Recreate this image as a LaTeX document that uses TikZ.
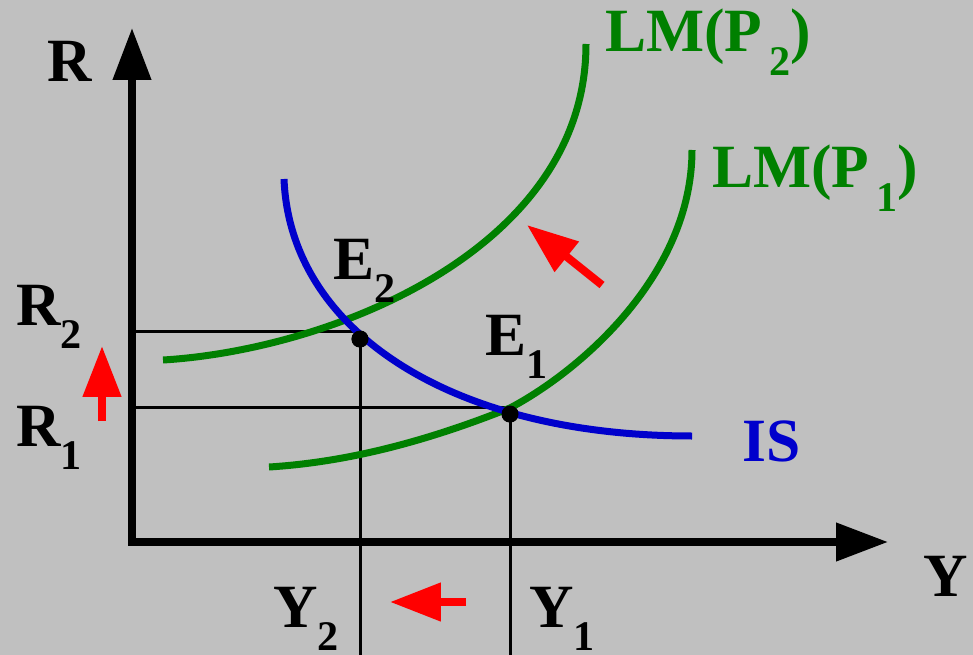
\documentclass[tikz,border=0pt]{standalone}
\usepackage{fontspec}
\setmainfont{Liberation Serif}
\usepackage{xcolor}
\usepackage{tikz}
\usetikzlibrary{
  arrows.meta,
  calc
}
\definecolor{bggrey}{HTML}{C0C0C0}
\definecolor{lmgreen}{HTML}{008000}
\definecolor{isblue}{HTML}{0000CC}
\definecolor{shiftred}{HTML}{FF0000}
\newcommand{\lowsub}[1]{\raisebox{-13.6pt}{\fontsize{24}{24}\selectfont #1}}
\tikzset{
  axisline/.style={
    line width=0.15cm,
    {Triangle[length=1.04cm,width=0.74cm]}-{Triangle[length=1.04cm,width=0.74cm]}
  },
  guideline/.style={
    line width=0.06cm, black
  },
  eqcurve/.style={
    line width=0.14cm, draw=#1
  },
  shiftarrow/.style={
    -{Triangle[length=1.02cm,width=0.74cm]}, line width=0.16cm, shiftred
  },
  eqdot/.style={
    circle, fill=black, inner sep=0pt, minimum size=0.34cm
  },
  lbl/.style={
    anchor=base west, inner sep=0pt,
    font=\fontsize{35}{40}\selectfont\bfseries, text=#1
  },
  lbl/.default=black,
}

\begin{document}
\begin{tikzpicture}[x=0.02cm, y=-0.02cm]
  \fill[bggrey] (0,0) rectangle (973,655);
  \useasboundingbox (0,0) rectangle (973,655);

  \coordinate (O) at (132,542);
  \coordinate (ytip) at (132,28);
  \coordinate (xtip) at (888,542);
  \coordinate (R2c) at (132,331);
  \coordinate (R1c) at (132,407);
  \coordinate (bottom) at (132,655);

  \node[eqdot] (E2pt) at (360,339) {};
  \node[eqdot] (E1pt) at (510,414) {};

  \draw[guideline] (R2c) -- (E2pt |- R2c);
  \draw[guideline] (R1c) -- (E1pt |- R1c);
  \draw[guideline] (E2pt.center) -- (E2pt |- bottom);
  \draw[guideline] (E1pt.center) -- (E1pt |- bottom);

  \coordinate (ISa) at (284,179);
  \coordinate (ISb) at (692,436);
  \coordinate (LM2a) at (163,360);
  \coordinate (LM2b) at (586,44);
  \coordinate (LM1a) at (269,467);
  \coordinate (LM1m) at (510,408);
  \coordinate (LM1b) at (692,150);

  \draw[eqcurve=lmgreen] (LM2a) .. controls (330,350) and (586,250) .. (LM2b);
  \draw[eqcurve=lmgreen] (LM1a) .. controls (350,462) and (430,440) .. (LM1m)
    .. controls (580,371) and (692,275) .. (LM1b);
  \draw[eqcurve=isblue] (ISa) .. controls (290,330) and (450,436) .. (ISb);

  \node[eqdot] at (E2pt) {};
  \node[eqdot] at (E1pt) {};

  \draw[axisline] (ytip) -- (O) -- (xtip);

  \coordinate (rtail) at (102,421);
  \coordinate (rhead) at (102,346);
  \coordinate (ytail) at (466,602);
  \coordinate (yhead) at (390,602);
  \coordinate (ltail) at (602,285);
  \coordinate (lhead) at (527,225);
  \draw[shiftarrow] (rtail) -- (rhead);
  \draw[shiftarrow] (ytail) -- (yhead);
  \draw[shiftarrow] (ltail) -- (lhead);

  \node[lbl] (Rlab) at (47,82) {R};
  \node[lbl] (Ylab) at (923,596) {Y};
  \node[lbl] (R2lab) at (16,325) {R\lowsub{2}};
  \node[lbl] (R1lab) at (16,446) {R\lowsub{1}};
  \node[lbl] (Y2lab) at (273,627) {Y\lowsub{2}};
  \node[lbl] (Y1lab) at (529,627) {Y\lowsub{1}};
  \node[lbl] (E2lab) at (333,279) {E\lowsub{2}};
  \node[lbl] (E1lab) at (485,355) {E\lowsub{1}};
  \node[lbl=isblue] (ISlab) at (742,461) {IS};
  \node[lbl=lmgreen] (LM2lab) at (605,52) {LM(P\hspace{0.12em}\lowsub{2})};
  \node[lbl=lmgreen] (LM1lab) at (712,188) {LM(P\hspace{0.12em}\lowsub{1})};
\end{tikzpicture}
\end{document}
